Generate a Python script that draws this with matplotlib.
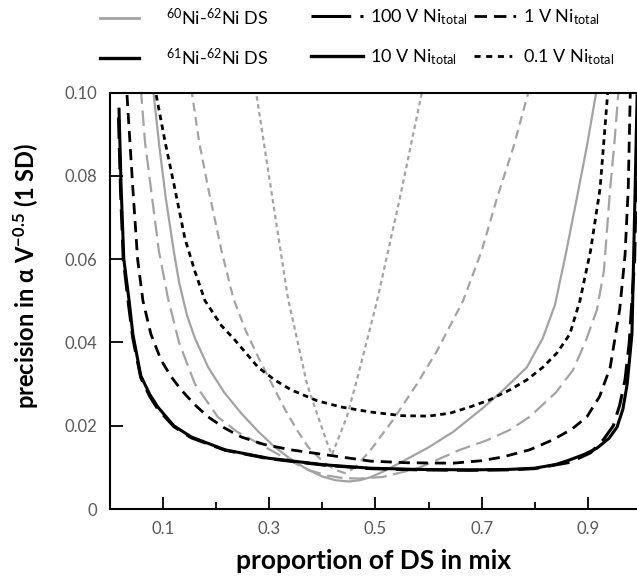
import matplotlib
matplotlib.use("Agg")
import matplotlib.pyplot as plt
from matplotlib.ticker import FixedLocator

plt.rcParams['font.family'] = ['Lato', 'DejaVu Sans']
plt.rcParams['mathtext.fontset'] = 'custom'
plt.rcParams['mathtext.rm'] = 'Lato'
plt.rcParams['mathtext.bf'] = 'Lato:bold'
plt.rcParams['mathtext.default'] = 'regular'

# 61Ni-62Ni double spike (black curves)
b10_x = [0.017, 0.021, 0.026, 0.036, 0.043, 0.058, 0.075, 0.090, 0.120, 0.153, 0.217, 0.298,
         0.405, 0.490, 0.580, 0.678, 0.750, 0.800, 0.840, 0.866, 0.895, 0.917, 0.940, 0.955,
         0.966, 0.974, 0.983, 0.989, 0.993]
b10_y = [0.096, 0.077, 0.060, 0.050, 0.042, 0.032, 0.0275, 0.0245, 0.020, 0.0173, 0.0142, 0.0122,
         0.0106, 0.0098, 0.0095, 0.0094, 0.0095, 0.0098, 0.0107, 0.0118, 0.0132, 0.0146, 0.0170,
         0.0197, 0.024, 0.030, 0.042, 0.077, 0.101]

b100_x = [0.016, 0.020, 0.025, 0.035, 0.043, 0.058, 0.075, 0.090, 0.120, 0.153, 0.217, 0.298,
          0.405, 0.490, 0.580, 0.678, 0.750, 0.800, 0.866, 0.905, 0.929, 0.948, 0.960, 0.970,
          0.978, 0.988, 0.993, 0.996]
b100_y = [0.094, 0.076, 0.060, 0.049, 0.041, 0.0315, 0.027, 0.024, 0.0198, 0.0171, 0.0141, 0.0121,
          0.0105, 0.0097, 0.0094, 0.0093, 0.0094, 0.0097, 0.0112, 0.0135, 0.0166, 0.020, 0.025,
          0.031, 0.040, 0.060, 0.090, 0.101]

b1_x = [0.032, 0.043, 0.052, 0.062, 0.077, 0.096, 0.115, 0.134, 0.160, 0.185, 0.215, 0.247,
        0.290, 0.341, 0.435, 0.490, 0.560, 0.646, 0.700, 0.740, 0.790, 0.834, 0.870, 0.898,
        0.922, 0.942, 0.960, 0.970, 0.976, 0.980]
b1_y = [0.0994, 0.077, 0.060, 0.050, 0.042, 0.0358, 0.0318, 0.0286, 0.0250, 0.0221, 0.0195, 0.0173,
        0.0155, 0.0142, 0.0125, 0.0115, 0.0111, 0.0110, 0.0116, 0.0125, 0.0142, 0.0166, 0.0192, 0.0221,
        0.027, 0.034, 0.048, 0.061, 0.077, 0.101]

b01_x = [0.087, 0.104, 0.122, 0.141, 0.160, 0.179, 0.210, 0.235, 0.279, 0.310, 0.341, 0.390,
         0.435, 0.490, 0.550, 0.600, 0.640, 0.678, 0.715, 0.753, 0.785, 0.815, 0.842, 0.866,
         0.885, 0.905, 0.923, 0.938]
b01_y = [0.0994, 0.088, 0.077, 0.065, 0.057, 0.050, 0.044, 0.0406, 0.034, 0.031, 0.0286, 0.026,
         0.0245, 0.0233, 0.0224, 0.0223, 0.0230, 0.0245, 0.0262, 0.0286, 0.031, 0.034, 0.0375, 0.042,
         0.050, 0.062, 0.077, 0.101]

# 60Ni-62Ni double spike (grey curves)
g10_x = [0.081, 0.093, 0.105, 0.120, 0.130, 0.145, 0.160, 0.185, 0.215, 0.247, 0.280, 0.310,
         0.340, 0.373, 0.400, 0.425, 0.450, 0.470, 0.490, 0.520, 0.552, 0.600, 0.646, 0.700,
         0.740, 0.785, 0.815, 0.838, 0.858, 0.879, 0.898, 0.917]
g10_y = [0.101, 0.087, 0.0747, 0.062, 0.0545, 0.0465, 0.041, 0.034, 0.028, 0.023, 0.0185, 0.0149,
         0.012, 0.0094, 0.0078, 0.0069, 0.0066, 0.0069, 0.0076, 0.0093, 0.0115, 0.0148, 0.0185, 0.024,
         0.0285, 0.034, 0.041, 0.049, 0.061, 0.0745, 0.087, 0.101]

g100_x = [0.058, 0.066, 0.077, 0.092, 0.109, 0.130, 0.160, 0.203, 0.240, 0.279, 0.330, 0.373,
          0.410, 0.440, 0.470, 0.514, 0.580, 0.659, 0.710, 0.753, 0.790, 0.840, 0.872, 0.895,
          0.917, 0.930, 0.942, 0.950, 0.958]
g100_y = [0.101, 0.088, 0.077, 0.062, 0.0507, 0.040, 0.030, 0.0221, 0.0185, 0.0158, 0.0122, 0.0094,
          0.0080, 0.0074, 0.0073, 0.0077, 0.0098, 0.0142, 0.0165, 0.019, 0.0221, 0.028, 0.0334, 0.040,
          0.0478, 0.057, 0.077, 0.088, 0.101]

g1_x = [0.153, 0.168, 0.185, 0.210, 0.232, 0.255, 0.279, 0.305, 0.330, 0.352, 0.373, 0.400,
        0.424, 0.445, 0.465, 0.490, 0.533, 0.578, 0.616, 0.665, 0.700, 0.729, 0.760, 0.790]
g1_y = [0.101, 0.088, 0.077, 0.062, 0.0507, 0.043, 0.0365, 0.030, 0.0238, 0.019, 0.0149, 0.0115,
        0.0094, 0.0085, 0.0105, 0.0140, 0.0214, 0.030, 0.038, 0.050, 0.062, 0.0747, 0.087, 0.101]

g01_x = [0.274, 0.303, 0.335, 0.371, 0.392, 0.410, 0.418, 0.446, 0.465, 0.503, 0.546, 0.589]
g01_y = [0.101, 0.077, 0.0507, 0.030, 0.0221, 0.0155, 0.013, 0.0221, 0.031, 0.050, 0.0747, 0.101]

x_major = [0.1, 0.3, 0.5, 0.7, 0.9]
x_minor = [0.2, 0.4, 0.6, 0.8]
y_ticks = [0, 0.02, 0.04, 0.06, 0.08, 0.10]
y_labels = ['0', '0.02', '0.04', '0.06', '0.08', '0.10']

legend_labels = [r'$^{60}$Ni-$^{62}$Ni DS', r'$^{61}$Ni-$^{62}$Ni DS',
                 r'100 V Ni$_{total}$', r'10 V Ni$_{total}$',
                 r'1 V Ni$_{total}$', r'0.1 V Ni$_{total}$']

grey = '#a3a3a3'
ls_100 = (0, (7, 3))
ls_1 = (0, (4, 2.5))
ls_01 = (0, (2, 1.6))

fig = plt.figure(figsize=(6.37, 5.78), dpi=100)
ax = fig.add_axes([110 / 637, 69 / 578, 527 / 637, 416.5 / 578])

ax.plot(g100_x, g100_y, color=grey, lw=1.6, linestyle=ls_100)
ax.plot(g10_x, g10_y, color=grey, lw=1.6)
ax.plot(g1_x, g1_y, color=grey, lw=1.6, linestyle=ls_1)
ax.plot(g01_x, g01_y, color=grey, lw=1.6, linestyle=ls_01)

ax.plot(b100_x, b100_y, color='black', lw=2.2, linestyle=ls_100)
ax.plot(b10_x, b10_y, color='black', lw=2.2)
ax.plot(b1_x, b1_y, color='black', lw=2.0, linestyle=ls_1)
ax.plot(b01_x, b01_y, color='black', lw=2.0, linestyle=ls_01)

ax.set_xlim(0, 0.9925)
ax.set_ylim(0, 0.10)
ax.xaxis.set_major_locator(FixedLocator(x_major))
ax.xaxis.set_minor_locator(FixedLocator(x_minor))
ax.set_xticklabels([str(v) for v in x_major])
ax.yaxis.set_major_locator(FixedLocator(y_ticks))
ax.set_yticklabels(y_labels)
ax.tick_params(which='major', direction='in', length=9, width=1.3, pad=9,
               labelsize=12, labelcolor='#595959')
ax.tick_params(which='minor', direction='in', length=5, width=1.3)
ax.tick_params(axis='y', which='minor', left=False)
for side in ['left', 'bottom', 'top']:
    ax.spines[side].set_linewidth(1.5)
ax.spines['right'].set_visible(False)

ax.set_xlabel('proportion of DS in mix', fontsize=19, fontweight='bold')
ax.set_ylabel(r'precision in α V$^{-0.5}$ (1 SD)', fontsize=17, fontweight='bold')
ax.xaxis.set_label_coords(0.5, -0.097)
ax.yaxis.set_label_coords(-0.13, 0.56)

# legend: one small legend per entry so each sits where it does in the figure
handles = [
    plt.Line2D([], [], color=grey, lw=2),
    plt.Line2D([], [], color='black', lw=2.4),
    plt.Line2D([], [], color='black', lw=2.2, linestyle=(0, (13, 3, 1.2, 10))),
    plt.Line2D([], [], color='black', lw=2.4),
    plt.Line2D([], [], color='black', lw=2.0, linestyle=(0, (4.5, 2.5, 4.5, 2.5, 1, 6))),
    plt.Line2D([], [], color='black', lw=2.0, linestyle=(0, (2.2, 2, 2.2, 2, 2.2, 2, 1, 6))),
]
pos_x = [100, 100, 311, 311, 474, 474]
pos_y = [17, 57, 17, 57, 17, 57]
hlen = [2.15, 2.15, 2.9, 2.9, 2.3, 2.3]
hpad = [1.5, 1.5, 0.35, 0.35, 0.4, 0.4]
for i in range(6):
    leg = fig.legend([handles[i]], [legend_labels[i]], loc='center left',
                     bbox_to_anchor=(pos_x[i] / 637, 1 - pos_y[i] / 578),
                     frameon=False, fontsize=13, borderpad=0, borderaxespad=0,
                     handlelength=hlen[i], handletextpad=hpad[i])

fig.savefig('out.png', dpi=100)
